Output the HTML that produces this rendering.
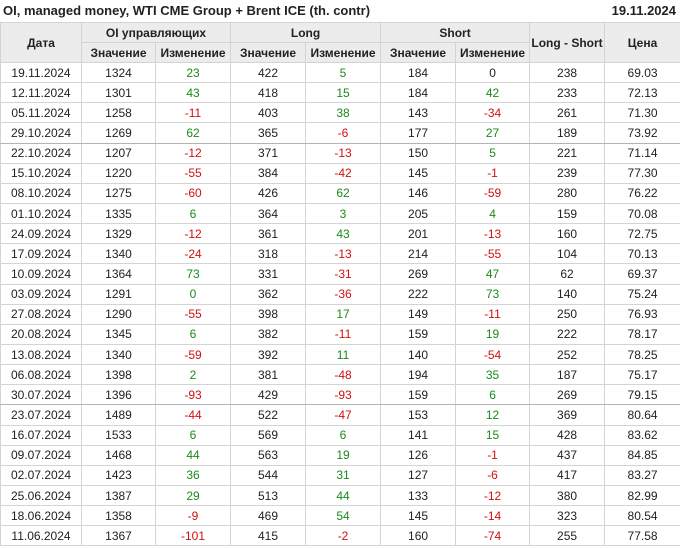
<!DOCTYPE html><html><head><meta charset="utf-8"><style>
body{margin:0;width:680px;height:548px;background:#fff;font-family:"Liberation Sans",Arial,sans-serif;color:#222;position:relative;overflow:hidden}
.t{position:absolute;top:3px;left:3px;font-size:13px;font-weight:bold}
.d{position:absolute;top:3px;right:4px;font-size:13px;font-weight:bold}
table{position:absolute;left:0;top:22px;border-collapse:collapse;table-layout:fixed;width:680px;font-size:12px}
td,th{border:1px solid #d4d4d4;text-align:center;padding:0;white-space:nowrap}
th{background:#ececec;font-weight:bold;color:#222;height:19px}
td{height:19.15px}
.g{color:#1a8a1a}.r{color:#d01010}
tr.s td{border-bottom:1px solid #b4b4b4}
</style></head><body>
<div class="t">OI, managed money, WTI CME Group + Brent ICE (th. contr)</div>
<div class="d">19.11.2024</div>
<table>
<colgroup><col style="width:81px"><col style="width:74px"><col style="width:75px"><col style="width:75px"><col style="width:75px"><col style="width:75px"><col style="width:74px"><col style="width:75px"><col style="width:76px"></colgroup>
<tr><th rowspan="2">Дата</th><th colspan="2">OI управляющих</th><th colspan="2">Long</th><th colspan="2">Short</th><th rowspan="2">Long - Short</th><th rowspan="2">Цена</th></tr>
<tr><th>Значение</th><th>Изменение</th><th>Значение</th><th>Изменение</th><th>Значение</th><th>Изменение</th></tr>
<tr><td>19.11.2024</td><td>1324</td><td class="g">23</td><td>422</td><td class="g">5</td><td>184</td><td>0</td><td>238</td><td>69.03</td></tr>
<tr><td>12.11.2024</td><td>1301</td><td class="g">43</td><td>418</td><td class="g">15</td><td>184</td><td class="g">42</td><td>233</td><td>72.13</td></tr>
<tr><td>05.11.2024</td><td>1258</td><td class="r">-11</td><td>403</td><td class="g">38</td><td>143</td><td class="r">-34</td><td>261</td><td>71.30</td></tr>
<tr class="s"><td>29.10.2024</td><td>1269</td><td class="g">62</td><td>365</td><td class="r">-6</td><td>177</td><td class="g">27</td><td>189</td><td>73.92</td></tr>
<tr><td>22.10.2024</td><td>1207</td><td class="r">-12</td><td>371</td><td class="r">-13</td><td>150</td><td class="g">5</td><td>221</td><td>71.14</td></tr>
<tr><td>15.10.2024</td><td>1220</td><td class="r">-55</td><td>384</td><td class="r">-42</td><td>145</td><td class="r">-1</td><td>239</td><td>77.30</td></tr>
<tr><td>08.10.2024</td><td>1275</td><td class="r">-60</td><td>426</td><td class="g">62</td><td>146</td><td class="r">-59</td><td>280</td><td>76.22</td></tr>
<tr><td>01.10.2024</td><td>1335</td><td class="g">6</td><td>364</td><td class="g">3</td><td>205</td><td class="g">4</td><td>159</td><td>70.08</td></tr>
<tr><td>24.09.2024</td><td>1329</td><td class="r">-12</td><td>361</td><td class="g">43</td><td>201</td><td class="r">-13</td><td>160</td><td>72.75</td></tr>
<tr><td>17.09.2024</td><td>1340</td><td class="r">-24</td><td>318</td><td class="r">-13</td><td>214</td><td class="r">-55</td><td>104</td><td>70.13</td></tr>
<tr><td>10.09.2024</td><td>1364</td><td class="g">73</td><td>331</td><td class="r">-31</td><td>269</td><td class="g">47</td><td>62</td><td>69.37</td></tr>
<tr><td>03.09.2024</td><td>1291</td><td class="g">0</td><td>362</td><td class="r">-36</td><td>222</td><td class="g">73</td><td>140</td><td>75.24</td></tr>
<tr><td>27.08.2024</td><td>1290</td><td class="r">-55</td><td>398</td><td class="g">17</td><td>149</td><td class="r">-11</td><td>250</td><td>76.93</td></tr>
<tr><td>20.08.2024</td><td>1345</td><td class="g">6</td><td>382</td><td class="r">-11</td><td>159</td><td class="g">19</td><td>222</td><td>78.17</td></tr>
<tr><td>13.08.2024</td><td>1340</td><td class="r">-59</td><td>392</td><td class="g">11</td><td>140</td><td class="r">-54</td><td>252</td><td>78.25</td></tr>
<tr><td>06.08.2024</td><td>1398</td><td class="g">2</td><td>381</td><td class="r">-48</td><td>194</td><td class="g">35</td><td>187</td><td>75.17</td></tr>
<tr class="s"><td>30.07.2024</td><td>1396</td><td class="r">-93</td><td>429</td><td class="r">-93</td><td>159</td><td class="g">6</td><td>269</td><td>79.15</td></tr>
<tr><td>23.07.2024</td><td>1489</td><td class="r">-44</td><td>522</td><td class="r">-47</td><td>153</td><td class="g">12</td><td>369</td><td>80.64</td></tr>
<tr><td>16.07.2024</td><td>1533</td><td class="g">6</td><td>569</td><td class="g">6</td><td>141</td><td class="g">15</td><td>428</td><td>83.62</td></tr>
<tr><td>09.07.2024</td><td>1468</td><td class="g">44</td><td>563</td><td class="g">19</td><td>126</td><td class="r">-1</td><td>437</td><td>84.85</td></tr>
<tr><td>02.07.2024</td><td>1423</td><td class="g">36</td><td>544</td><td class="g">31</td><td>127</td><td class="r">-6</td><td>417</td><td>83.27</td></tr>
<tr><td>25.06.2024</td><td>1387</td><td class="g">29</td><td>513</td><td class="g">44</td><td>133</td><td class="r">-12</td><td>380</td><td>82.99</td></tr>
<tr><td>18.06.2024</td><td>1358</td><td class="r">-9</td><td>469</td><td class="g">54</td><td>145</td><td class="r">-14</td><td>323</td><td>80.54</td></tr>
<tr><td>11.06.2024</td><td>1367</td><td class="r">-101</td><td>415</td><td class="r">-2</td><td>160</td><td class="r">-74</td><td>255</td><td>77.58</td></tr>
</table>
</body></html>
